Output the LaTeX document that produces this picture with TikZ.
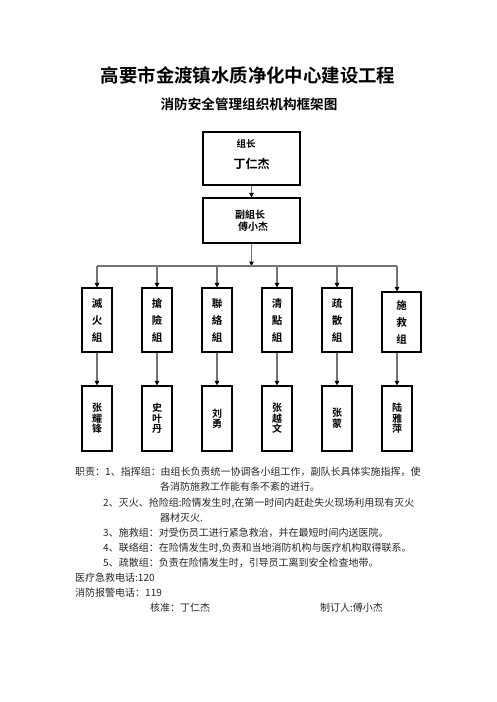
\documentclass[tikz,border=0pt]{standalone}
\usepackage{fontspec}
\usepackage{xcolor}
\usetikzlibrary{arrows.meta}
\newfontfamily\cjk{Noto Sans CJK SC}[BoldFont={Noto Sans CJK SC Bold}]

\begin{document}
\begin{tikzpicture}[x=1pt, y=-1pt,
  leader/.style={rectangle, draw, line width=1.1pt, minimum width=97pt,
                 inner sep=0pt, align=left, font=\cjk\bfseries},
  team/.style={rectangle, draw, line width=1.1pt, minimum width=30pt,
               minimum height=64pt, inner sep=0pt, align=center,
               font=\cjk\bfseries\fontsize{10.5}{17}\selectfont},
  member/.style={team, minimum height=65pt,
                 font=\cjk\bfseries\fontsize{10}{10.5}\selectfont},
  duty/.style={anchor=west, inner sep=0pt, text=black!85,
               font=\cjk\fontsize{10}{12}\selectfont},
  arrow/.style={-{Triangle[length=4.5pt, width=4.5pt, color=black]},
                line width=1.1pt, draw=black!55},
  bus/.style={line width=1.1pt, draw=black!55}
]
\useasboundingbox (0,0) rectangle (496,702);

% Titles
\node[font=\cjk\bfseries\fontsize{18.4}{20}\selectfont] (title) at (248,75) {高要市金渡镇水质净化中心建设工程};
\node[font=\cjk\bfseries\fontsize{13.6}{15}\selectfont] (subtitle) at (249,104) {消防安全管理组织机构框架图};

% Leaders
\node[leader, minimum height=53pt] (head) at (251.5,158.5)
  {\hspace*{3pt}{\fontsize{9.5}{10}\selectfont 组长}\\[9pt]{\fontsize{12}{12}\selectfont 丁仁杰}\\[-3pt]{}};
\node[leader, minimum height=45pt] (deputy) at (251.5,220.5)
  {\fontsize{10}{14}\selectfont 副組长\\\hspace*{3pt}傅小杰};

% Teams
\node[team] (fire) at (97,320) {滅\\火\\組};
\node[team] (rescue) at (157,320) {搶\\險\\組};
\node[team] (liaison) at (217,320) {聯\\絡\\組};
\node[team] (count) at (277,320) {清\\點\\組};
\node[team] (evac) at (337,320) {疏\\散\\組};
\node[team, minimum width=39pt, minimum height=60pt] (aid) at (401.5,322) {施\\救\\组};

% Members
\node[member] (zhangyf) at (97,418.5) {张\\耀\\锋};
\node[member] (shiyd) at (157,418.5) {史\\叶\\丹};
\node[member] (liuy) at (217,418.5) {刘\\勇};
\node[member] (zhangyw) at (277,418.5) {张\\越\\文};
\node[member] (zhangm) at (337,418.5) {张\\蒙};
\node[member] (luyp) at (397,418.5) {陆\\雅\\萍};

% Arrows - chain
\coordinate (split) at (251.5,266);
\draw[arrow] (head) -- (deputy);
\draw[arrow] (deputy) -- (split);
\draw[bus] (fire.north |- split) -- (luyp.north |- split);
\draw[arrow] (fire.north |- split) -- (fire);
\draw[arrow] (rescue.north |- split) -- (rescue);
\draw[arrow] (liaison.north |- split) -- (liaison);
\draw[arrow] (count.north |- split) -- (count);
\draw[arrow] (evac.north |- split) -- (evac);
\draw[arrow] (luyp.north |- split) -- (luyp.north |- aid.north);
\draw[arrow] (fire) -- (zhangyf);
\draw[arrow] (rescue) -- (shiyd);
\draw[arrow] (liaison) -- (liuy);
\draw[arrow] (count) -- (zhangyw);
\draw[arrow] (evac) -- (zhangm);
\draw[arrow] (luyp.north |- aid.south) -- (luyp);

% Duties
\node[duty] (duty1) at (75,472) {职责：1、指挥组：由组长负责统一协调各小组工作，副队长具体实施指挥，使};
\node[duty] (duty1b) at (160,487) {各消防施救工作能有条不紊的进行。};
\node[duty] (duty2) at (103,503) {2、灭火、抢险组:险情发生时,在第一时间内赶赴失火现场利用现有灭火};
\node[duty] (duty2b) at (160,518) {器材灭火.};
\node[duty] (duty3) at (103,533) {3、施救组：对受伤员工进行紧急救治，并在最短时间内送医院。};
\node[duty] (duty4) at (103,548) {4、联络组：在险情发生时,负责和当地消防机构与医疗机构取得联系。};
\node[duty] (duty5) at (103,563) {5、疏散组：负责在险情发生时，引导员工离到安全检查地带。};
\node[duty] (phone1) at (75,578) {医疗急救电话:120};
\node[duty] (phone2) at (75,593) {消防报警电话：119};
\node[duty] (approve) at (150,608) {核准：丁仁杰};
\node[duty] (author) at (320,608) {制订人:傅小杰};

\end{tikzpicture}
\end{document}
